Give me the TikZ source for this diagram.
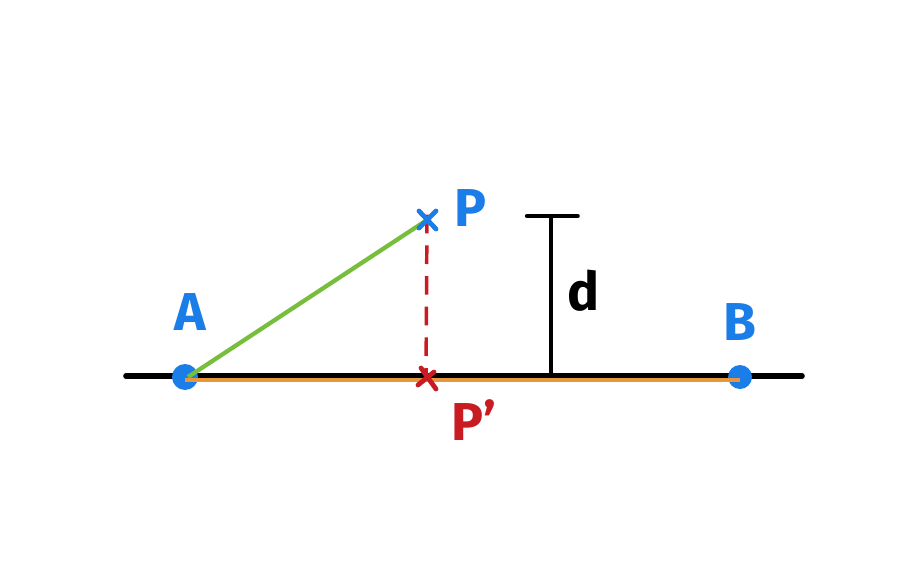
\documentclass[tikz,border=0pt]{standalone}
\usepackage{fontspec}
\setmainfont{Fira Sans}
\definecolor{penblue}{RGB}{27,125,232}
\definecolor{pengreen}{RGB}{118,190,60}
\definecolor{penorange}{RGB}{232,150,58}
\definecolor{penred}{RGB}{200,28,34}
\tikzset{every picture/.style={line width=0.75pt}}
\tikzset{
  lbl/.style={inner sep=0.75pt,font=\fontsize{40}{40}\selectfont\bfseries},
  crossmark/.style={line width=3.6pt,line cap=round},
}

\begin{document}
\begin{tikzpicture}[x=0.75pt,y=0.75pt,yscale=-1,xscale=1]
\useasboundingbox (0,0) rectangle (900,564);

% Points
\coordinate (A) at (185,377);
\coordinate (B) at (740,377);
\coordinate (P) at (427,220);
\coordinate (Pp) at (426,379);
\coordinate (lineL) at (126,376);
\coordinate (lineR) at (802,376);
\coordinate (dfoot) at (551,376);
\coordinate (dtop) at (551,216);

%Straight Lines [base line]
\draw [line width=4.2pt,line cap=round] (lineL) -- (lineR);

%Shape: Circle [A, B]
\fill [penblue] (A) circle (13);
\fill [penblue] (B) circle (12);

%Straight Lines [segment AB]
\draw [color=penorange,line width=3.4pt] ([yshift=2.4]A) -- ([yshift=2.4]B);
%Straight Lines [AP]
\draw [color=pengreen,line width=3.2pt] ([shift={(3,0)}]A) -- (P);
%Straight Lines [dashed drop]
\draw [color=penred,line width=2.6pt,dash pattern={on 14pt off 9pt}] ([yshift=-4]P) -- (Pp);
%Straight Lines [distance d]
\draw [line width=3.2pt] (dfoot) -- (dtop);
\draw [line width=3.2pt,line cap=round] ([xshift=-18]dtop) -- ([xshift=20]dtop);

%Cross marks
\draw [crossmark,color=penblue] ([shift={(-8,-9)}]P) -- ([shift={(9,9)}]P) ([shift={(-8,8)}]P) -- ([shift={(9,-9)}]P);
\draw [crossmark,color=penred] ([shift={(-5,-11)}]Pp) -- ([shift={(10,10)}]Pp) ([shift={(-8,6)}]Pp) -- ([shift={(8,-7)}]Pp);

% Text Node
\node [lbl,text=penblue] (labA) at (190,312) {A};
% Text Node
\node [lbl,text=penblue] (labP) at (470,208) {P};
% Text Node
\node [lbl,text=penred] (labPp) at (474,420) {P'};
% Text Node
\node [lbl,text=penblue] (labB) at (740,322) {B};
% Text Node
\node [lbl] (labd) at (583,291) {d};
\end{tikzpicture}
\end{document}
